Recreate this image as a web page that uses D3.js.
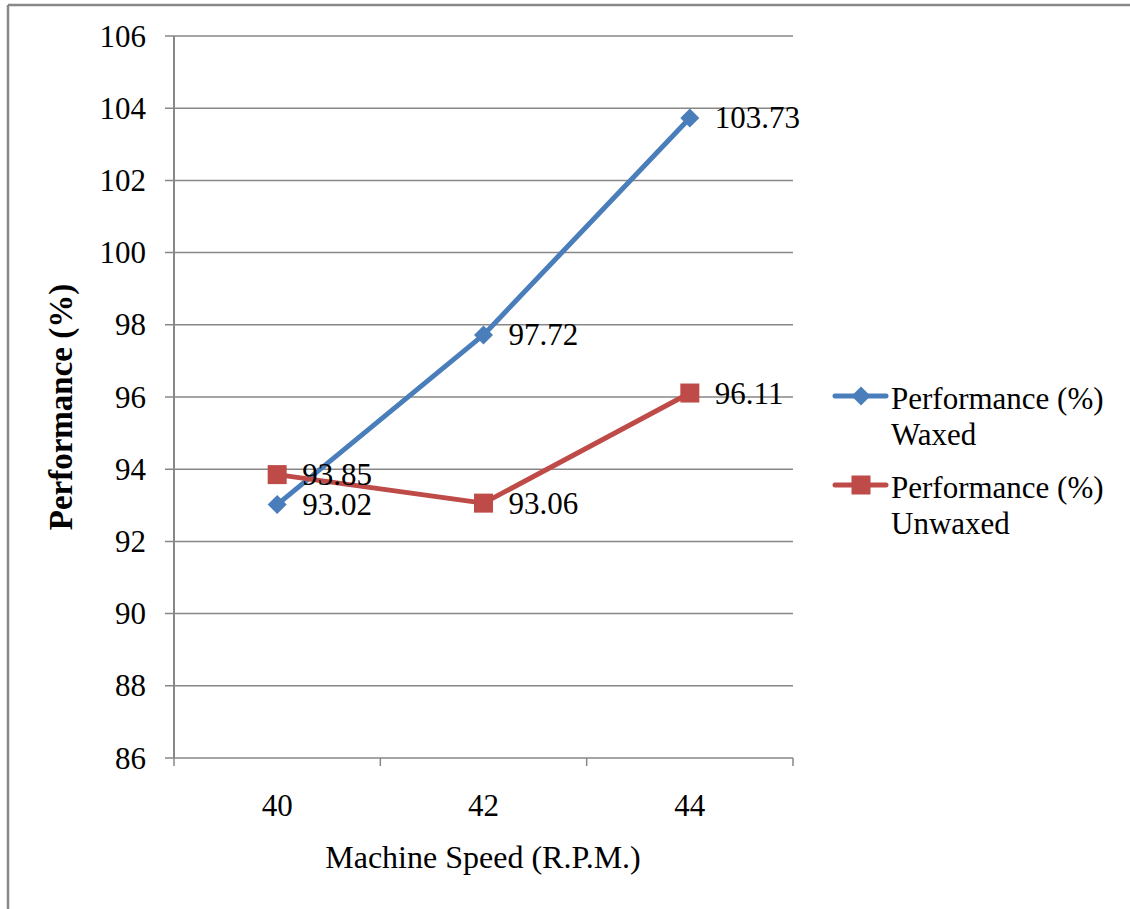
<!DOCTYPE html>
<html>
<head>
<meta charset="utf-8">
<script src="https://cdn.jsdelivr.net/npm/d3@7"></script>
<style>
  html, body { margin: 0; padding: 0; background: #fff; }
  svg { display: block; }
</style>
</head>
<body>
<svg id="chart" width="1130" height="909"></svg>
<script>
// Machine speed categories (R.P.M.)
const speeds = ["40", "42", "44"];
// Performance (%) per speed
const waxed = [93.02, 97.72, 103.73];
const unwaxed = [93.85, 93.06, 96.11];
// Y axis tick values
const yTicks = [86, 88, 90, 92, 94, 96, 98, 100, 102, 104, 106];
const seriesNames = [["Performance (%)", "Waxed"], ["Performance (%)", "Unwaxed"]];

const colors = ["#4a7ebb", "#be4b48"];
const gridColor = "#878787";
const FONT = "'Times New Roman', 'Liberation Serif', 'DejaVu Serif', serif";

const svg = d3.select("#chart")
  .attr("font-family", FONT);
const W = 1130, H = 909;

// outer frame (top and left edges)
svg.append("line").attr("x1", 8).attr("x2", W).attr("y1", 5).attr("y2", 5)
  .attr("stroke", "#888").attr("stroke-width", 2.5);
svg.append("line").attr("x1", 8).attr("x2", 8).attr("y1", 5).attr("y2", H)
  .attr("stroke", "#888").attr("stroke-width", 2.5);

const plot = { left: 174, right: 793, top: 36, bottom: 758 };

const x = d3.scaleBand().domain(speeds).range([plot.left, plot.right]).padding(0);
const y = d3.scaleLinear().domain([86, 106]).range([plot.bottom, plot.top]);

function txt(sel) {
  return sel.attr("font-family", FONT).attr("fill", "#000");
}

// horizontal gridlines
svg.append("g").selectAll("line").data(yTicks).join("line")
  .attr("x1", plot.left - 9).attr("x2", plot.right)
  .attr("y1", d => y(d)).attr("y2", d => y(d))
  .attr("stroke", gridColor).attr("stroke-width", 1.5);

// y axis line
svg.append("line").attr("x1", plot.left).attr("x2", plot.left)
  .attr("y1", plot.top).attr("y2", plot.bottom)
  .attr("stroke", gridColor).attr("stroke-width", 2);

// x axis: category boundary ticks
const boundaries = speeds.map(s => x(s)).concat([plot.right]);
svg.append("g").selectAll("line").data(boundaries).join("line")
  .attr("x1", d => d).attr("x2", d => d)
  .attr("y1", plot.bottom).attr("y2", plot.bottom + 8)
  .attr("stroke", gridColor).attr("stroke-width", 1.5);

// y tick labels
txt(svg.append("g").selectAll("text").data(yTicks).join("text"))
  .attr("x", 146).attr("y", d => y(d) + 10.5)
  .attr("text-anchor", "end").attr("font-size", 31)
  .text(d => d);

// x tick labels
txt(svg.append("g").selectAll("text").data(speeds).join("text"))
  .attr("x", d => x(d) + x.bandwidth() / 2).attr("y", 816)
  .attr("text-anchor", "middle").attr("font-size", 31)
  .text(d => d);

// axis titles
txt(svg.append("text")).attr("x", 483).attr("y", 868)
  .attr("text-anchor", "middle").attr("font-size", 32)
  .text("Machine Speed (R.P.M.)");
txt(svg.append("text"))
  .attr("transform", "translate(72,407) rotate(-90)")
  .attr("text-anchor", "middle").attr("font-size", 33).attr("font-weight", "bold")
  .text("Performance (%)");

const cx = d => x(d) + x.bandwidth() / 2;
const line = d3.line().x(d => cx(d.s)).y(d => y(d.v));

const series = [waxed, unwaxed].map((vals, i) => vals.map((v, j) => ({ s: speeds[j], v, i })));

function marker(g, i, px, py) {
  if (i === 0) {
    const r = 9.5;
    g.append("path")
      .attr("d", `M${px},${py - r}L${px + r},${py}L${px},${py + r}L${px - r},${py}Z`)
      .attr("fill", colors[0]);
  } else {
    const s = 19;
    g.append("rect").attr("x", px - s / 2).attr("y", py - s / 2)
      .attr("width", s).attr("height", s).attr("fill", colors[1]);
  }
}

series.forEach((data, i) => {
  svg.append("path").datum(data).attr("d", line)
    .attr("fill", "none").attr("stroke", colors[i]).attr("stroke-width", 5)
    .attr("stroke-linejoin", "round").attr("stroke-linecap", "round");
});
series.forEach((data, i) => {
  const g = svg.append("g");
  data.forEach(d => marker(g, i, cx(d.s), y(d.v)));
});
// value labels
series.forEach((data, i) => {
  txt(svg.append("g").selectAll("text").data(data).join("text"))
    .attr("x", d => cx(d.s) + 25).attr("y", d => y(d.v) + 10.5)
    .attr("font-size", 31)
    .text(d => d.v.toFixed(2));
});

// legend
const legendY = [396, 485];
seriesNames.forEach((lines, i) => {
  const g = svg.append("g");
  g.append("line").attr("x1", 835).attr("x2", 886)
    .attr("y1", legendY[i]).attr("y2", legendY[i])
    .attr("stroke", colors[i]).attr("stroke-width", 5).attr("stroke-linecap", "round");
  marker(g, i, 861, legendY[i]);
  lines.forEach((t, k) => {
    txt(g.append("text")).attr("x", 891).attr("y", legendY[i] + 13 + k * 36)
      .attr("font-size", 31).text(t);
  });
});
</script>
</body>
</html>
